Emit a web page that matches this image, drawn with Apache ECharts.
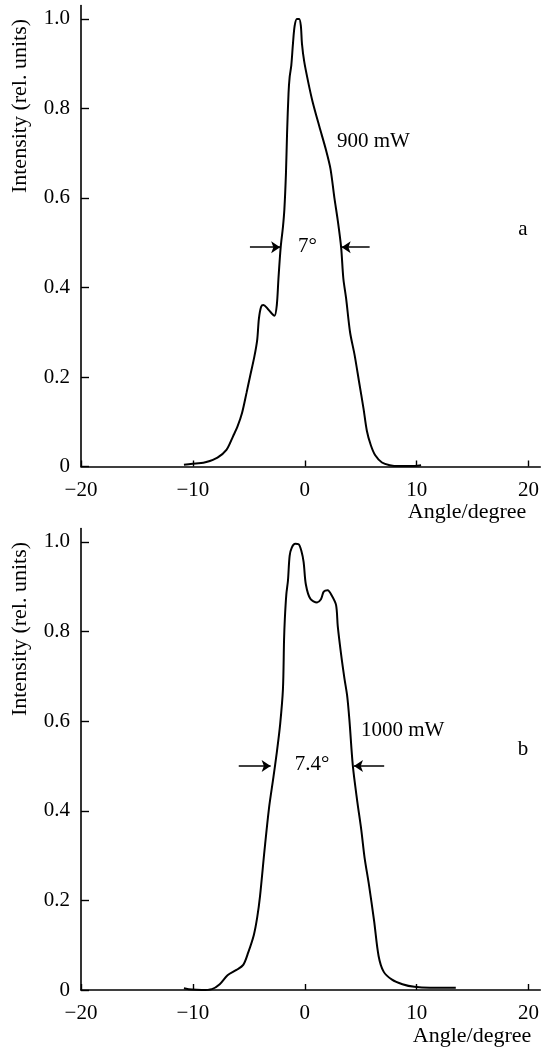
<!DOCTYPE html>
<html>
<head>
<meta charset="utf-8">
<script src="https://cdn.jsdelivr.net/npm/echarts@6/dist/echarts.min.js"></script>
<style>
html,body{margin:0;padding:0;background:#fff;}
#c{width:542px;height:1050px;}
</style>
</head>
<body>
<div id="c"></div>
<script>
// ---- data ----
const xTicks = [-20, -10, 0, 10, 20];
const yTicks = [0, 0.2, 0.4, 0.6, 0.8, 1.0];

const anglesA = [-10.8, -9.5, -8.8, -7.8, -7.0, -6.4, -6.0, -5.6, -5.2, -4.9, -4.5, -4.25, -4.1, -3.9, -3.7, -3.3, -2.95, -2.7, -2.5, -2.35, -2.15, -1.95, -1.82, -1.68, -1.58, -1.45, -1.35, -1.2, -1.05, -0.9, -0.7, -0.5, -0.35, -0.25, -0.05, 0.3, 0.7, 1.3, 1.9, 2.3, 2.65, 2.95, 3.25, 3.45, 3.7, 4.05, 4.45, 4.85, 5.25, 5.55, 5.9, 6.3, 6.9, 7.6, 8.4, 9.4, 10.4];
const intensityA = [0.004, 0.007, 0.010, 0.020, 0.037, 0.068, 0.090, 0.120, 0.165, 0.200, 0.246, 0.283, 0.330, 0.357, 0.361, 0.352, 0.342, 0.337, 0.360, 0.420, 0.490, 0.535, 0.575, 0.655, 0.745, 0.834, 0.870, 0.897, 0.946, 0.985, 1.000, 1.000, 0.985, 0.945, 0.905, 0.860, 0.815, 0.760, 0.707, 0.665, 0.600, 0.550, 0.490, 0.420, 0.375, 0.300, 0.250, 0.190, 0.130, 0.080, 0.048, 0.025, 0.009, 0.003, 0.001, 0.001, 0.003];

const anglesB = [-10.8, -10.1, -9.2, -8.3, -7.6, -6.9, -6.1, -5.5, -5.05, -4.55, -4.25, -4.0, -3.6, -3.2, -2.8, -2.5, -2.2, -1.95, -1.85, -1.78, -1.65, -1.5, -1.35, -1.15, -0.85, -0.55, -0.3, -0.1, 0.1, 0.5, 1.1, 1.45, 1.7, 2.05, 2.4, 2.8, 2.95, 3.25, 3.55, 3.8, 4.0, 4.3, 4.7, 5.05, 5.35, 5.75, 6.2, 6.6, 7.05, 7.8, 8.73, 9.8, 11.2, 13.5];
const intensityB = [0.004, 0.001, 0.000, 0.002, 0.013, 0.033, 0.045, 0.056, 0.084, 0.123, 0.162, 0.209, 0.311, 0.405, 0.475, 0.530, 0.593, 0.671, 0.781, 0.828, 0.882, 0.914, 0.969, 0.988, 0.996, 0.995, 0.980, 0.955, 0.905, 0.873, 0.865, 0.872, 0.889, 0.892, 0.881, 0.859, 0.812, 0.749, 0.695, 0.655, 0.600, 0.500, 0.420, 0.358, 0.295, 0.233, 0.154, 0.076, 0.041, 0.023, 0.013, 0.007, 0.005, 0.005];

// FWHM arrows: [fromAngle, toAngle, level]
const arrowsA = [[-4.9, -2.2, 0.49], [5.8, 3.3, 0.49]];
const arrowsB = [[-5.9, -3.05, 0.5], [7.1, 4.4, 0.5]];

const labelsA = {power: '900 mW', width: '7°', panel: 'a'};
const labelsB = {power: '1000 mW', width: '7.4°', panel: 'b'};
const xName = 'Angle/degree';
const yName = 'Intensity (rel. units)';

// ---- chart ----
const FONT = 'Liberation Serif, Times New Roman, Times, serif';
const zip = (a, b) => a.map((v, i) => [v, b[i]]);

function xAxisCfg(gi) {
  return {
    type: 'value', gridIndex: gi, min: -20, max: 21.05, interval: 10,
    axisLine: {show: true, onZero: false, lineStyle: {color: '#000', width: 1.6}},
    axisTick: {show: true, inside: true, length: 6, lineStyle: {color: '#000', width: 1.4}, customValues: xTicks},
    axisLabel: {show: true, margin: 13, color: '#000', fontFamily: FONT, fontSize: 21, customValues: xTicks,
      formatter: v => (Math.abs(v % 10) < 1e-9 ? (v < 0 ? '\u2212' + Math.abs(v) : String(v)) : '')},
    splitLine: {show: false}
  };
}
function yAxisCfg(gi) {
  return {
    type: 'value', gridIndex: gi, min: 0, max: 1.03, interval: 0.2,
    axisLine: {show: true, onZero: false, lineStyle: {color: '#000', width: 1.6}},
    axisTick: {show: true, inside: true, length: 8, lineStyle: {color: '#000', width: 1.4}, customValues: yTicks},
    axisLabel: {show: true, margin: 11, color: '#000', fontFamily: FONT, fontSize: 21, customValues: yTicks,
      formatter: v => (v === 0 ? '0' : (v > 1.01 ? '' : v.toFixed(1)))},
    splitLine: {show: false}
  };
}
function arrowLines(arr) {
  return {
    silent: true, symbol: ['none', 'arrow'], symbolSize: 9, animation: false,
    label: {show: false}, emphasis: {disabled: true},
    lineStyle: {color: '#000', width: 1.5, type: 'solid'},
    data: arr.map(a => [{coord: [a[0], a[2]]}, {coord: [a[1], a[2]]}])
  };
}
function curve(ax, ay, gi, arrows) {
  return {
    type: 'line', xAxisIndex: gi, yAxisIndex: gi, data: zip(ax, ay),
    showSymbol: false, smooth: 0.3, animation: false,
    lineStyle: {color: '#000', width: 2},
    markLine: arrowLines(arrows)
  };
}
function txt(text, x, y, size, align, rot) {
  return {
    type: 'text', x: x, y: y, rotation: rot || 0, silent: true,
    style: {text: text, fill: '#000', font: size + 'px ' + FONT, textAlign: align || 'center', textVerticalAlign: 'middle'}
  };
}

const chart = echarts.init(document.getElementById('c'), null, {renderer: 'canvas'});
chart.setOption({
  backgroundColor: '#fff',
  animation: false,
  textStyle: {fontFamily: FONT},
  grid: [
    {left: 81, right: 0, top: 5.5, height: 461},
    {left: 81, right: 0, top: 528.5, height: 461.5}
  ],
  xAxis: [xAxisCfg(0), xAxisCfg(1)],
  yAxis: [yAxisCfg(0), yAxisCfg(1)],
  series: [curve(anglesA, intensityA, 0, arrowsA), curve(anglesB, intensityB, 1, arrowsB)],
  graphic: [
    txt(yName, 20, 106, 22, 'center', Math.PI / 2),
    txt(yName, 20, 629, 22, 'center', Math.PI / 2),
    txt(xName, 467, 512.5, 22),
    txt(xName, 472, 1036, 22),
    txt(labelsA.power, 337, 141, 21, 'left'),
    txt(labelsA.width, 307.5, 246, 21),
    txt(labelsA.panel, 523, 229, 21),
    txt(labelsB.power, 361, 730, 21, 'left'),
    txt(labelsB.width, 312, 764, 21),
    txt(labelsB.panel, 523, 749, 21)
  ]
});
</script>
</body>
</html>
